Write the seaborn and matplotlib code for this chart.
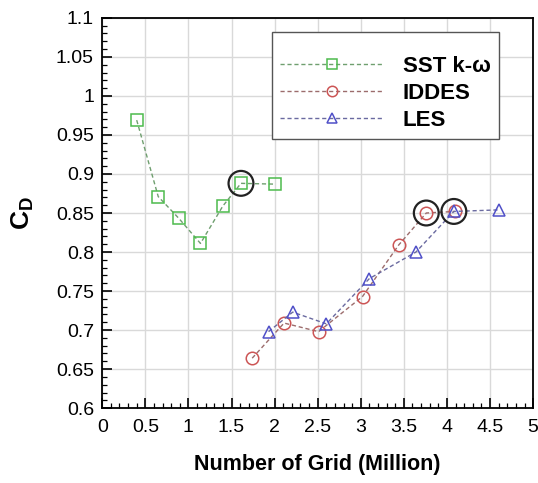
import matplotlib
matplotlib.use("Agg")
import matplotlib.pyplot as plt
from matplotlib.ticker import MultipleLocator, FuncFormatter
import seaborn as sns
import pandas as pd

# Drag coefficient against grid size for three turbulence models
sst_grid = [0.40, 0.65, 0.89, 1.14, 1.40, 1.61, 2.00]
sst_cd = [0.969, 0.871, 0.843, 0.811, 0.859, 0.888, 0.887]

iddes_grid = [1.74, 2.11, 2.51, 3.02, 3.44, 3.76, 4.09]
iddes_cd = [0.664, 0.709, 0.698, 0.743, 0.809, 0.850, 0.852]

les_grid = [1.93, 2.21, 2.60, 3.10, 3.64, 4.08, 4.60]
les_cd = [0.698, 0.723, 0.708, 0.766, 0.800, 0.852, 0.854]

# Converged grids, ringed in black
chosen = [("SST k-ω", 5), ("IDDES", 5), ("LES", 5)]

x_ticks = [0, 0.5, 1, 1.5, 2, 2.5, 3, 3.5, 4, 4.5, 5]
y_ticks = [0.6, 0.65, 0.7, 0.75, 0.8, 0.85, 0.9, 0.95, 1.0, 1.05, 1.1]

sns.set_theme(style="white")
plt.rcParams["font.family"] = ["Liberation Sans", "DejaVu Sans"]
plt.rcParams["mathtext.fontset"] = "custom"
plt.rcParams["mathtext.rm"] = "Liberation Sans"
plt.rcParams["mathtext.bf"] = "Liberation Sans:bold"
plt.rcParams["text.color"] = "black"
plt.rcParams["axes.labelcolor"] = "black"

series = {
    "SST k-ω": (sst_grid, sst_cd, "s", "#4dbb4d", "#6f9f6f"),
    "IDDES": (iddes_grid, iddes_cd, "o", "#cc5555", "#9c6c6c"),
    "LES": (les_grid, les_cd, "^", "#5050c8", "#6a6aa0"),
}

fig = plt.figure(figsize=(5.38, 4.83), dpi=100)
ax = fig.add_axes([0.19, 0.155, 0.801, 0.808])

for name, (gx, gy, mk, mcol, lcol) in series.items():
    df = pd.DataFrame({"grid": gx, "cd": gy})
    sns.lineplot(data=df, x="grid", y="cd", ax=ax, color=lcol, linewidth=1.0,
                 linestyle=(0, (3, 2)), marker=mk, markersize=9,
                 markerfacecolor="none", markeredgecolor=mcol,
                 markeredgewidth=1.1, label=name, zorder=3)

for name, idx in chosen:
    gx, gy = series[name][0], series[name][1]
    ax.scatter([gx[idx]], [gy[idx]], s=320, facecolors="none",
               edgecolors="#222222", linewidths=1.6, zorder=4)

ax.set_xlim(0, 5)
ax.set_ylim(0.6, 1.1)
ax.set_xticks(x_ticks)
ax.set_yticks(y_ticks)
fmt = FuncFormatter(lambda v, p: f"{v:g}")
ax.xaxis.set_major_formatter(fmt)
ax.yaxis.set_major_formatter(fmt)
ax.xaxis.set_minor_locator(MultipleLocator(0.1))
ax.yaxis.set_minor_locator(MultipleLocator(0.01))
ax.tick_params(which="major", direction="in", length=7, width=1.2,
               labelsize=14, colors="black", pad=6,
               bottom=True, left=True, top=False, right=False)
ax.tick_params(axis="x", which="major", pad=8)
ax.tick_params(which="minor", direction="in", length=3.5, width=0.9,
               colors="black", bottom=True, left=True, top=False, right=False)

ax.grid(True, which="major", color="#d9d9d9", linewidth=1.0)
for sp in ax.spines.values():
    sp.set_color("black")
    sp.set_linewidth(1.3)

ax.set_xlabel("Number of Grid (Million)", fontsize=15.5, fontweight="bold",
              labelpad=13, color="black")
ax.set_ylabel(r"$\mathbf{C_D}$", fontsize=19, labelpad=14, color="black")

leg = ax.legend(loc="upper right", bbox_to_anchor=(0.920, 0.963),
                prop={"weight": "bold", "size": 16}, handlelength=4.65,
                handletextpad=0.85, borderpad=0.37, labelspacing=0.28,
                borderaxespad=0.0, title=" ", title_fontsize=6.5,
                frameon=True, fancybox=False, edgecolor="#555555",
                framealpha=1.0)
leg.get_frame().set_linewidth(1.0)
for h in leg.legend_handles:
    h.set_markersize(7.5)
for t in leg.get_texts():
    t.set_color("black")

fig.savefig("out.png", dpi=100)
